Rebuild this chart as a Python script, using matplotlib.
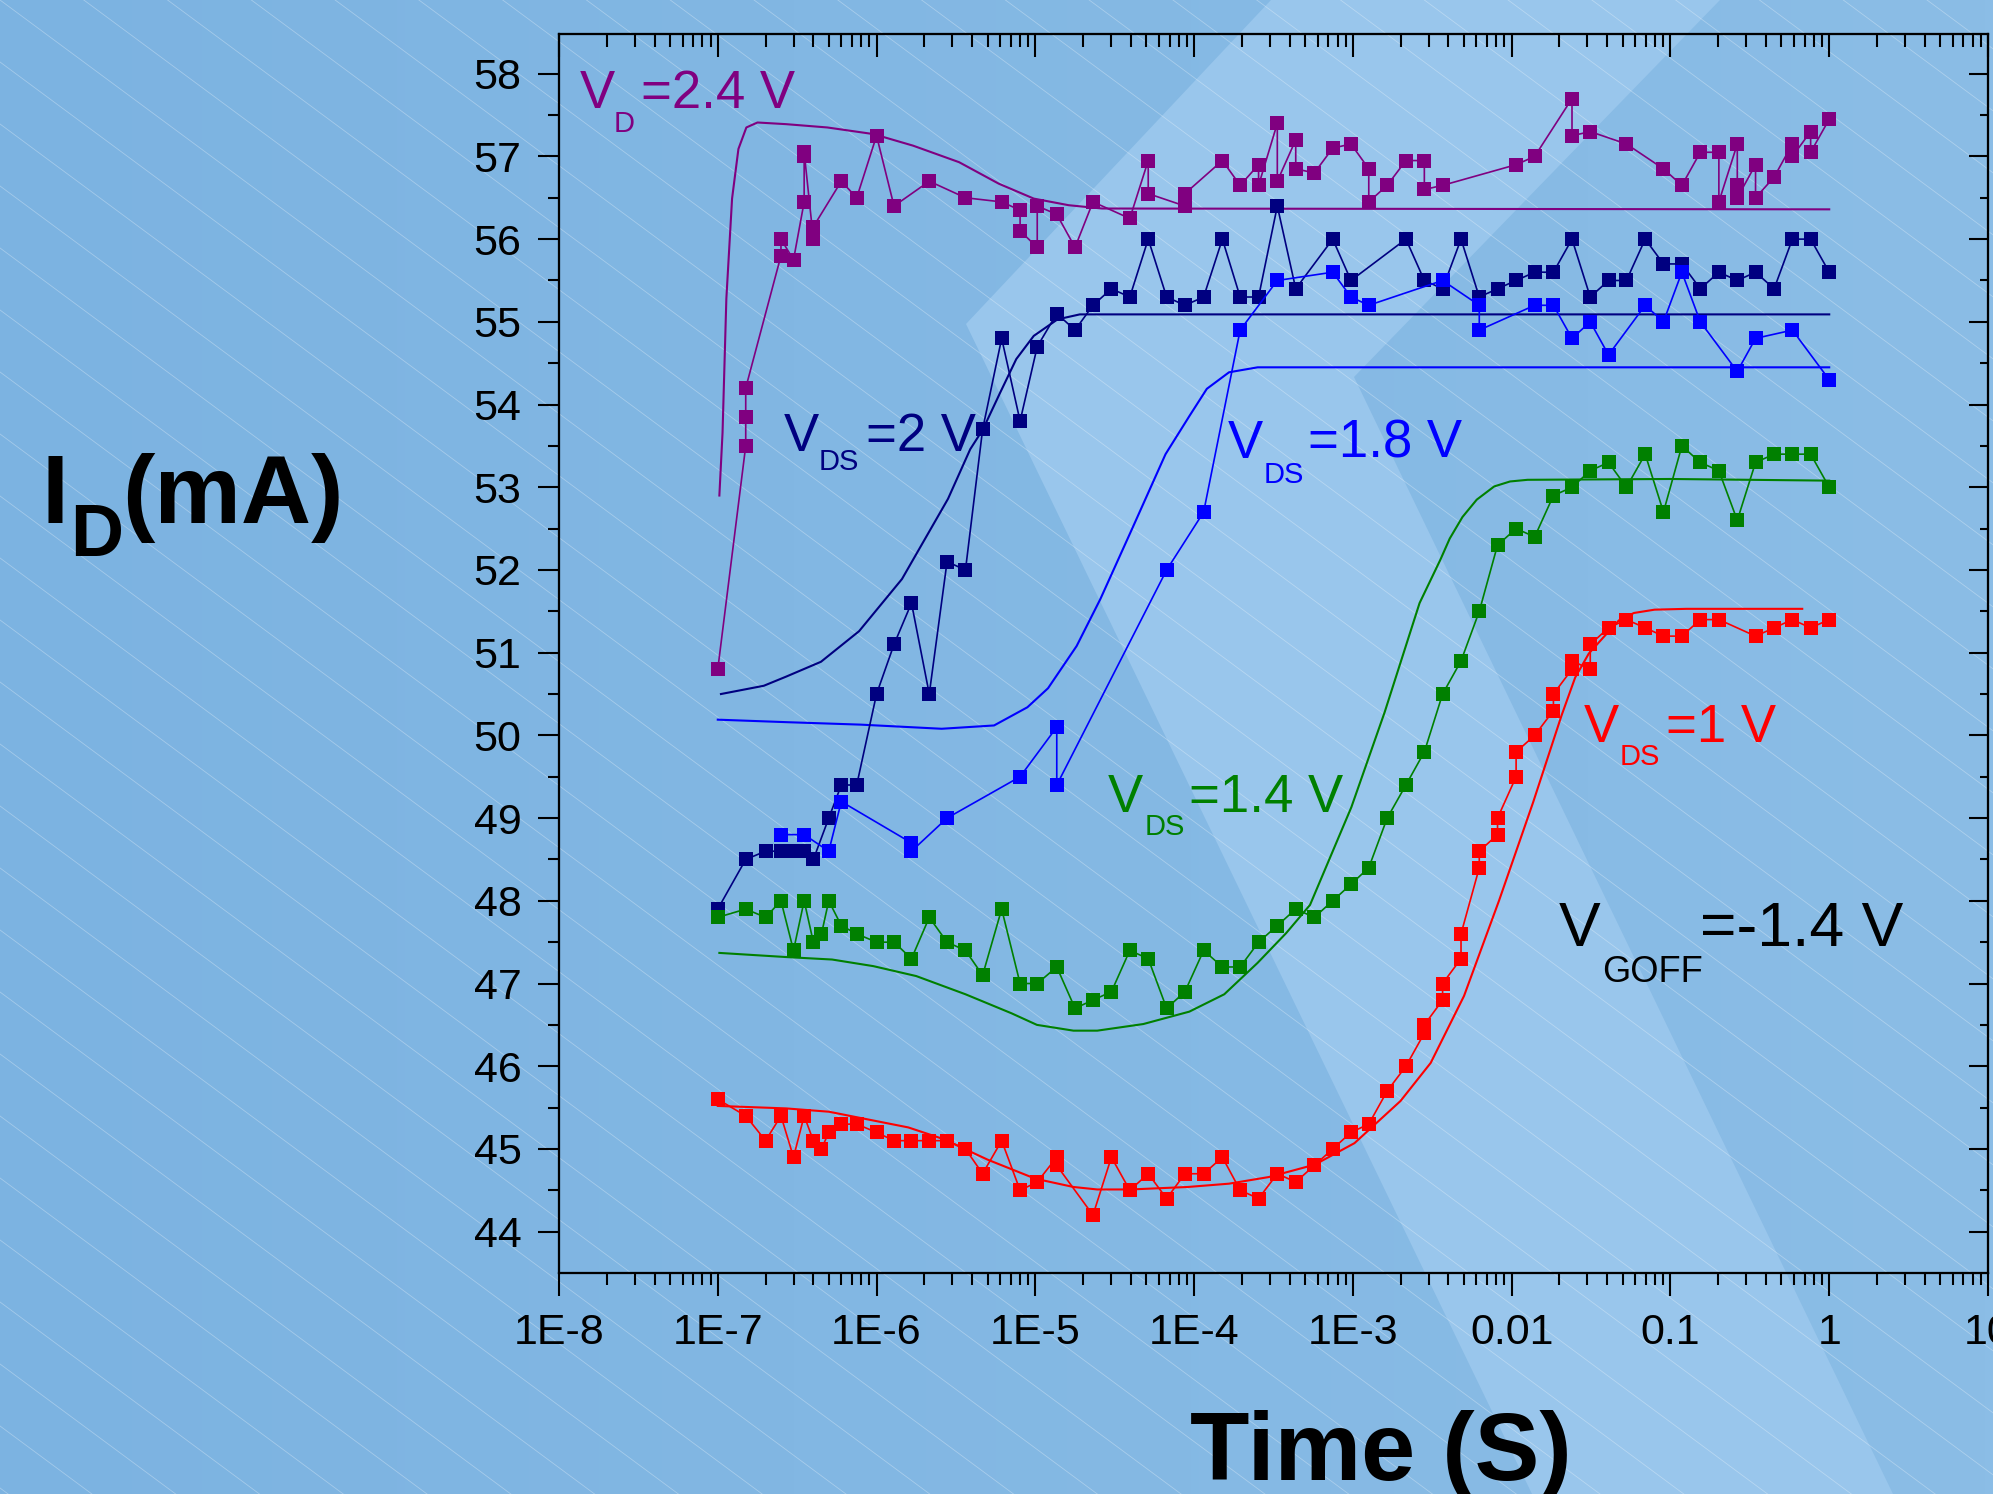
import numpy as np
import matplotlib
matplotlib.use('Agg')
import matplotlib.pyplot as plt
from matplotlib.colors import LinearSegmentedColormap
from matplotlib.patches import Polygon
from matplotlib.ticker import NullFormatter

plt.rcParams['font.family'] = ['Liberation Sans', 'DejaVu Sans']

# measured points: [log10(time / s), I_D (mA)]
red_pts = np.array([
    [-7.0, 45.6], [-6.824, 45.4], [-6.699, 45.1], [-6.602, 45.4], [-6.523, 44.9],
    [-6.456, 45.4], [-6.398, 45.1], [-6.347, 45.0], [-6.301, 45.2], [-6.222, 45.3],
    [-6.125, 45.3], [-6.0, 45.2], [-5.89, 45.1], [-5.78, 45.1], [-5.668, 45.1],
    [-5.556, 45.1], [-5.44, 45.0], [-5.332, 44.7], [-5.212, 45.1], [-5.096, 44.5],
    [-4.988, 44.6], [-4.865, 44.9], [-4.865, 44.8], [-4.637, 44.2], [-4.521, 44.9],
    [-4.405, 44.5], [-4.289, 44.7], [-4.173, 44.4], [-4.058, 44.7], [-3.94, 44.7],
    [-3.822, 44.9], [-3.71, 44.5], [-3.594, 44.4], [-3.476, 44.7], [-3.36, 44.6],
    [-3.243, 44.8], [-3.127, 45.0], [-3.012, 45.2], [-2.9, 45.3], [-2.784, 45.7],
    [-2.666, 46.0], [-2.55, 46.4], [-2.55, 46.5], [-2.435, 46.8], [-2.435, 47.0],
    [-2.319, 47.3], [-2.319, 47.6], [-2.204, 48.4], [-2.204, 48.6], [-2.089, 48.8],
    [-2.089, 49.0], [-1.972, 49.5], [-1.972, 49.8], [-1.855, 50.0], [-1.737, 50.3],
    [-1.737, 50.5], [-1.62, 50.8], [-1.62, 50.9], [-1.505, 50.8], [-1.505, 51.1],
    [-1.39, 51.3], [-1.277, 51.4], [-1.159, 51.3], [-1.044, 51.2], [-0.928, 51.2],
    [-0.812, 51.4], [-0.695, 51.4], [-0.464, 51.2], [-0.347, 51.3], [-0.232, 51.4],
    [-0.117, 51.3], [0.0, 51.4],
])
green_pts = np.array([
    [-7.0, 47.8], [-6.824, 47.9], [-6.699, 47.8], [-6.602, 48.0], [-6.523, 47.4],
    [-6.456, 48.0], [-6.398, 47.5], [-6.347, 47.6], [-6.301, 48.0], [-6.222, 47.7],
    [-6.125, 47.6], [-6.0, 47.5], [-5.89, 47.5], [-5.78, 47.3], [-5.668, 47.8],
    [-5.556, 47.5], [-5.44, 47.4], [-5.332, 47.1], [-5.212, 47.9], [-5.096, 47.0],
    [-4.988, 47.0], [-4.865, 47.2], [-4.75, 46.7], [-4.637, 46.8], [-4.521, 46.9],
    [-4.405, 47.4], [-4.289, 47.3], [-4.173, 46.7], [-4.058, 46.9], [-3.94, 47.4],
    [-3.822, 47.2], [-3.71, 47.2], [-3.594, 47.5], [-3.476, 47.7], [-3.36, 47.9],
    [-3.243, 47.8], [-3.127, 48.0], [-3.012, 48.2], [-2.9, 48.4], [-2.784, 49.0],
    [-2.666, 49.4], [-2.55, 49.8], [-2.435, 50.5], [-2.319, 50.9], [-2.204, 51.5],
    [-2.089, 52.3], [-1.972, 52.5], [-1.855, 52.4], [-1.737, 52.9], [-1.62, 53.0],
    [-1.505, 53.2], [-1.39, 53.3], [-1.277, 53.0], [-1.159, 53.4], [-1.044, 52.7],
    [-0.928, 53.5], [-0.812, 53.3], [-0.695, 53.2], [-0.579, 52.6], [-0.464, 53.3],
    [-0.347, 53.4], [-0.232, 53.4], [-0.117, 53.4], [0.0, 53.0],
])
blue_pts = np.array([
    [-6.602, 48.8], [-6.456, 48.8], [-6.301, 48.6], [-6.222, 49.2], [-5.78, 48.7],
    [-5.78, 48.6], [-5.556, 49.0], [-5.096, 49.5], [-4.865, 50.1], [-4.865, 49.4],
    [-4.173, 52.0], [-3.94, 52.7], [-3.71, 54.9], [-3.476, 55.5], [-3.127, 55.6],
    [-3.012, 55.3], [-2.9, 55.2], [-2.435, 55.5], [-2.204, 55.2], [-2.204, 54.9],
    [-1.855, 55.2], [-1.737, 55.2], [-1.62, 54.8], [-1.505, 55.0], [-1.39, 54.6],
    [-1.159, 55.2], [-1.044, 55.0], [-0.928, 55.6], [-0.812, 55.0], [-0.579, 54.4],
    [-0.464, 54.8], [-0.232, 54.9], [0.0, 54.3],
])
navy_pts = np.array([
    [-7.0, 47.9], [-6.824, 48.5], [-6.699, 48.6], [-6.602, 48.6], [-6.523, 48.6],
    [-6.456, 48.6], [-6.398, 48.5], [-6.301, 49.0], [-6.222, 49.4], [-6.125, 49.4],
    [-6.0, 50.5], [-5.89, 51.1], [-5.78, 51.6], [-5.668, 50.5], [-5.556, 52.1],
    [-5.44, 52.0], [-5.332, 53.7], [-5.212, 54.8], [-5.096, 53.8], [-4.988, 54.7],
    [-4.865, 55.1], [-4.75, 54.9], [-4.637, 55.2], [-4.521, 55.4], [-4.405, 55.3],
    [-4.289, 56.0], [-4.173, 55.3], [-4.058, 55.2], [-3.94, 55.3], [-3.822, 56.0],
    [-3.71, 55.3], [-3.594, 55.3], [-3.476, 56.4], [-3.36, 55.4], [-3.127, 56.0],
    [-3.012, 55.5], [-2.666, 56.0], [-2.55, 55.5], [-2.435, 55.4], [-2.319, 56.0],
    [-2.204, 55.3], [-2.089, 55.4], [-1.972, 55.5], [-1.855, 55.6], [-1.737, 55.6],
    [-1.62, 56.0], [-1.505, 55.3], [-1.39, 55.5], [-1.277, 55.5], [-1.159, 56.0],
    [-1.044, 55.7], [-0.928, 55.7], [-0.812, 55.4], [-0.695, 55.6], [-0.579, 55.5],
    [-0.464, 55.6], [-0.347, 55.4], [-0.232, 56.0], [-0.117, 56.0], [0.0, 55.6],
])
purple_pts = np.array([
    [-7.0, 50.8], [-6.824, 53.5], [-6.824, 53.85], [-6.824, 54.2], [-6.602, 55.8],
    [-6.602, 56.0], [-6.523, 55.75], [-6.456, 56.45], [-6.456, 57.0], [-6.456, 57.05],
    [-6.398, 56.0], [-6.398, 56.15], [-6.222, 56.7], [-6.125, 56.5], [-6.0, 57.25],
    [-5.89, 56.4], [-5.668, 56.7], [-5.44, 56.5], [-5.212, 56.45], [-5.096, 56.35],
    [-5.096, 56.1], [-4.988, 55.9], [-4.988, 56.4], [-4.865, 56.3], [-4.75, 55.9],
    [-4.637, 56.45], [-4.405, 56.25], [-4.289, 56.95], [-4.289, 56.55], [-4.058, 56.4],
    [-4.058, 56.55], [-3.822, 56.95], [-3.71, 56.65], [-3.594, 56.9], [-3.594, 56.65],
    [-3.476, 57.4], [-3.476, 56.7], [-3.36, 57.2], [-3.36, 56.85], [-3.243, 56.8],
    [-3.127, 57.1], [-3.012, 57.15], [-2.9, 56.85], [-2.9, 56.45], [-2.784, 56.65],
    [-2.666, 56.95], [-2.55, 56.95], [-2.55, 56.6], [-2.435, 56.65], [-1.972, 56.9],
    [-1.855, 57.0], [-1.62, 57.7], [-1.62, 57.25], [-1.505, 57.3], [-1.277, 57.15],
    [-1.044, 56.85], [-0.928, 56.65], [-0.812, 57.05], [-0.695, 57.05], [-0.695, 56.45],
    [-0.579, 57.15], [-0.579, 56.65], [-0.579, 56.5], [-0.464, 56.9], [-0.464, 56.5],
    [-0.347, 56.75], [-0.232, 57.15], [-0.232, 57.0], [-0.117, 57.3], [-0.117, 57.05],
    [0.0, 57.45],
])

# simulated curves: [log10(time / s), I_D (mA)]
red_fit = np.array([
    [-7.0, 45.52], [-6.57, 45.49], [-6.3, 45.45], [-5.8, 45.26], [-5.58, 45.12],
    [-5.3, 44.87], [-5.0, 44.64], [-4.76, 44.54], [-4.61, 44.51], [-4.4, 44.51],
    [-4.04, 44.54], [-3.78, 44.58], [-3.53, 44.66], [-3.24, 44.81], [-2.99, 45.07],
    [-2.7, 45.58], [-2.51, 46.04], [-2.3, 46.85], [-2.08, 48.0], [-1.865, 49.19],
    [-1.686, 50.24], [-1.6, 50.7], [-1.514, 50.99], [-1.42, 51.19], [-1.325, 51.39],
    [-1.23, 51.48], [-1.1, 51.52], [-0.9, 51.53], [-0.17, 51.53],
])
green_fit = np.array([
    [-6.99, 47.37], [-6.57, 47.32], [-6.28, 47.29], [-6.02, 47.21], [-5.75, 47.09],
    [-5.44, 46.87], [-5.15, 46.64], [-4.99, 46.5], [-4.76, 46.43], [-4.61, 46.43],
    [-4.32, 46.51], [-4.03, 46.66], [-3.81, 46.87], [-3.6, 47.25], [-3.42, 47.61],
    [-3.27, 47.95], [-3.01, 49.13], [-2.8, 50.28], [-2.58, 51.6], [-2.45, 52.12],
    [-2.39, 52.38], [-2.31, 52.64], [-2.22, 52.85], [-2.11, 53.01], [-2.01, 53.07],
    [-1.9, 53.09], [-1.0, 53.1], [0.0, 53.08],
])
blue_fit = np.array([
    [-7.0, 50.19], [-6.57, 50.16], [-6.1, 50.13], [-5.59, 50.08], [-5.26, 50.12],
    [-5.05, 50.34], [-4.92, 50.57], [-4.74, 51.08], [-4.59, 51.65], [-4.39, 52.5],
    [-4.18, 53.4], [-4.03, 53.86], [-3.92, 54.19], [-3.78, 54.39], [-3.6, 54.45],
    [0.0, 54.45],
])
navy_fit = np.array([
    [-6.98, 50.5], [-6.71, 50.6], [-6.57, 50.71], [-6.35, 50.89], [-6.11, 51.26],
    [-5.84, 51.89], [-5.55, 52.86], [-5.41, 53.46], [-5.33, 53.7], [-5.22, 54.15],
    [-5.12, 54.55], [-5.01, 54.83], [-4.86, 55.03], [-4.72, 55.09], [-4.5, 55.09],
    [0.0, 55.09],
])
purple_fit = np.array([
    [-6.99, 52.9], [-6.97, 53.66], [-6.946, 55.28], [-6.91, 56.49], [-6.87, 57.09],
    [-6.82, 57.35], [-6.75, 57.41], [-6.57, 57.39], [-6.31, 57.35], [-6.02, 57.27],
    [-5.77, 57.13], [-5.48, 56.93], [-5.23, 56.67], [-5.01, 56.49], [-4.79, 56.41],
    [-4.58, 56.37], [0.0, 56.36],
])

series = [
    (purple_pts, purple_fit, '#800080'),
    (navy_pts, navy_fit, '#000080'),
    (blue_pts, blue_fit, '#0000ff'),
    (green_pts, green_fit, '#008000'),
    (red_pts, red_fit, '#ff0000'),
]

x_major = [1e-8, 1e-7, 1e-6, 1e-5, 1e-4, 1e-3, 1e-2, 1e-1, 1, 10]
x_labels = ['1E-8', '1E-7', '1E-6', '1E-5', '1E-4', '1E-3', '0.01', '0.1', '1', '10']
x_minor = [k * 10.0 ** e for e in range(-8, 1) for k in range(2, 10)]
y_major = list(range(44, 59))
y_minor = [v + 0.5 for v in range(44, 58)]

W, H = 1993, 1494
fig = plt.figure(figsize=(W / 100, H / 100), dpi=100)

# background: gradient, thin diagonal stripes, light chevron band
bg = fig.add_axes([0, 0, 1, 1], zorder=-10)
cmap = LinearSegmentedColormap.from_list('bgc', ['#7cb3e1', '#8bbde6'])
bg.imshow(np.linspace(0, 1, 256)[None, :], cmap=cmap, extent=[0, W, H, 0], aspect='auto')
for c in np.arange(-1550, H + 62, 62):
    bg.plot([0, W], [c, c + 0.74 * W], color='white', lw=0.6, alpha=0.3)
bg.add_patch(Polygon([(1271, 0), (1720, 0), (1354, 377), (1893, 1494), (1532, 1494), (966, 324)],
                     closed=True, fc='#99c6ec', ec='none'))
bg.set_xlim(0, W)
bg.set_ylim(H, 0)
bg.axis('off')

ax = fig.add_axes([559 / W, 1 - 1273 / H, (1988 - 559) / W, (1273 - 34) / H])
ax.set_facecolor('none')

for pts, fit, col in series:
    ax.plot(10 ** fit[:, 0], fit[:, 1], '-', color=col, lw=1.5, zorder=2)
for pts, fit, col in series:
    ax.plot(10 ** pts[:, 0], pts[:, 1], '-s', color=col, lw=1.2, ms=10, mew=0, zorder=3)

ax.set_xscale('log')
ax.set_xlim(1e-8, 10)
ax.set_ylim(43.5, 58.48)
ax.set_xticks(x_major, x_labels)
ax.set_xticks(x_minor, minor=True)
ax.xaxis.set_minor_formatter(NullFormatter())
ax.set_yticks(y_major)
ax.set_yticks(y_minor, minor=True)
ax.tick_params(axis='x', which='major', direction='out', length=16.5, width=1.5,
               labelsize=31, pad=12, top=False)
ax.tick_params(axis='x', which='minor', direction='out', length=8.5, width=1.5, top=False)
ax.tick_params(axis='y', which='major', direction='out', length=15, width=1.5,
               labelsize=31, pad=12, right=False)
ax.tick_params(axis='y', which='minor', direction='out', length=8, width=1.5, right=False)

# mirrored ticks on top and right point inward
axt = ax.twiny()
axt.set_xscale('log')
axt.set_xlim(ax.get_xlim())
axt.set_xticks(x_major)
axt.set_xticks(x_minor, minor=True)
axt.xaxis.set_minor_formatter(NullFormatter())
axt.tick_params(axis='x', which='major', direction='in', length=16.5, width=1.5,
                labeltop=False, top=True, bottom=False)
axt.tick_params(axis='x', which='minor', direction='in', length=9, width=1.5,
                labeltop=False, top=True, bottom=False)

axr = ax.twinx()
axr.set_ylim(ax.get_ylim())
axr.set_yticks(y_major)
axr.set_yticks(y_minor, minor=True)
axr.tick_params(axis='y', which='major', direction='in', length=14, width=1.5,
                labelright=False, right=True, left=False)
axr.tick_params(axis='y', which='minor', direction='in', length=6, width=1.5,
                labelright=False, right=True, left=False)

for a in (ax, axt, axr):
    for s in a.spines.values():
        s.set_linewidth(1.5)


def ftext(x, y, s, size, color='black', weight='normal'):
    fig.text(x / W, 1 - y / H, s, fontsize=size, color=color, fontweight=weight,
             ha='left', va='baseline')


# axis titles
ftext(42, 523, 'I', 70, weight='bold')
ftext(70, 556, 'D', 53, weight='bold')
ftext(122, 523, '(mA)', 70, weight='bold')
ftext(1190, 1480, 'Time (S)', 70, weight='bold')

# curve labels
ftext(580, 108, 'V', 38, '#800080')
ftext(614, 132, 'D', 21, '#800080')
ftext(641, 108, '=2.4 V', 38, '#800080')

ftext(784, 451, 'V', 38, '#000080')
ftext(819, 470, 'DS', 21, '#000080')
ftext(866, 451, '=2 V', 38, '#000080')

ftext(1228, 458, 'V', 38, '#0000ff')
ftext(1264, 483, 'DS', 21, '#0000ff')
ftext(1308, 458, '=1.8 V', 38, '#0000ff')

ftext(1108, 812, 'V', 38, '#008000')
ftext(1145, 835, 'DS', 21, '#008000')
ftext(1189, 812, '=1.4 V', 38, '#008000')

ftext(1584, 742, 'V', 38, '#ff0000')
ftext(1620, 765, 'DS', 21, '#ff0000')
ftext(1666, 742, '=1 V', 38, '#ff0000')

ftext(1559, 946, 'V', 45)
ftext(1602, 982, 'GOFF', 26)
ftext(1700, 946, '=-1.4 V', 45)

fig.savefig('out.png', dpi=100)
